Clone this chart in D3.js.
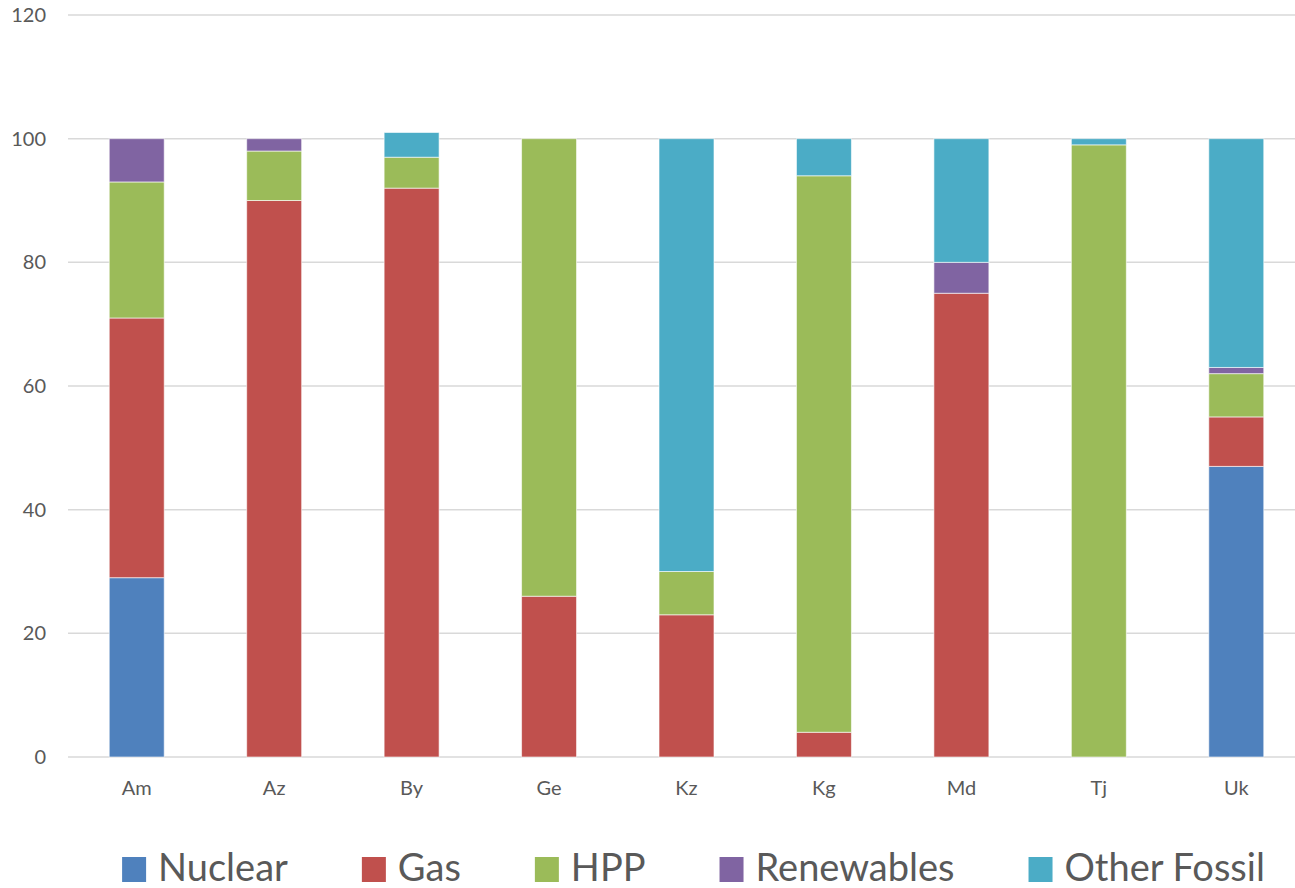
<!DOCTYPE html>
<html>
<head>
<meta charset="utf-8">
<script src="https://cdn.jsdelivr.net/npm/d3@7"></script>
<style>
  html, body { margin: 0; padding: 0; background: #fff; }
  svg { display: block; font-family: Lato, "Open Sans", "DejaVu Sans", sans-serif; }
</style>
</head>
<body>
<svg id="chart" width="1295" height="888"></svg>
<script>
// Electricity generation mix by country (% of total)
const countries = ["Am", "Az", "By", "Ge", "Kz", "Kg", "Md", "Tj", "Uk"];
const seriesNames = ["Nuclear", "Gas", "HPP", "Renewables", "Other Fossil"];
const nuclear     = [29, 0,  0,  0,  0,  0,  0,  0, 47];
const gas         = [42, 90, 92, 26, 23, 4, 75,  0,  8];
const hpp         = [22, 8,  5, 74,  7, 90, 0, 99,  7];
const renewables  = [7,  2,  0,  0,  0,  0,  5,  0,  1];
const otherFossil = [0,  0,  4,  0, 70,  6, 20, 1, 37];
const yTicks = [0, 20, 40, 60, 80, 100, 120];
const colors = ["#4F81BD", "#C0504D", "#9BBB59", "#8064A2", "#4BACC6"];

const seriesValues = [nuclear, gas, hpp, renewables, otherFossil];
const rows = countries.map((c, i) => {
  const r = { country: c };
  seriesNames.forEach((s, k) => { r[s] = seriesValues[k][i]; });
  return r;
});

const svg = d3.select("#chart");
const W = 1295, H = 888;
const plot = { left: 68, right: 1305, top: 15, bottom: 757 };

const x = d3.scaleBand().domain(countries).range([plot.left, plot.right]).paddingInner(0.6).paddingOuter(0.3);
const y = d3.scaleLinear().domain([0, 120]).range([plot.bottom, plot.top]);

// gridlines
svg.append("g").selectAll("line").data(yTicks).join("line")
  .attr("x1", plot.left).attr("x2", W)
  .attr("y1", d => y(d)).attr("y2", d => y(d))
  .attr("stroke", "#d9d9d9").attr("stroke-width", 1.5);

const tickFont = g => g.selectAll("text").attr("fill", "#595959")
  .style("font-size", "20px").style("font-family", "Lato, 'Open Sans', sans-serif");

// y axis labels
const yAxis = d3.axisLeft(y).tickValues(yTicks).tickSize(0).tickPadding(0);
svg.append("g").attr("transform", "translate(46,0)").call(yAxis)
  .call(g => g.select(".domain").remove())
  .call(tickFont);

// x axis labels
const xAxis = d3.axisBottom(x).tickSize(0).tickPadding(0);
svg.append("g").attr("transform", `translate(0,${plot.bottom + 24})`).call(xAxis)
  .call(g => g.select(".domain").remove())
  .call(tickFont);

// stacked bars
const stacked = d3.stack().keys(seriesNames)(rows);
svg.append("g").selectAll("g").data(stacked).join("g")
  .attr("fill", (d, i) => colors[i])
  .selectAll("rect").data(d => d.filter(p => p[1] - p[0] > 0)).join("rect")
  .attr("x", d => x(d.data.country))
  .attr("width", x.bandwidth())
  .attr("y", d => y(d[1]))
  .attr("height", d => y(d[0]) - y(d[1]))
  .attr("stroke", "#ffffff").attr("stroke-opacity", 0.6).attr("stroke-width", 1);

// legend
const legend = svg.append("g");
const items = legend.selectAll("g").data(seriesNames).join("g");
items.append("rect").attr("width", 24).attr("height", 25).attr("y", 857)
  .attr("fill", (d, i) => colors[i]);
items.append("text").text(d => d).attr("x", 36).attr("y", 881)
  .attr("fill", "#595959").style("font-size", "38px");
const gap = 74;
let cursor = 0;
const offsets = [];
items.each(function () {
  offsets.push(cursor);
  const w = d3.select(this).select("text").node().getComputedTextLength();
  cursor += 36 + w + gap;
});
const total = cursor - gap;
const start = 693.5 - total / 2;
items.attr("transform", (d, i) => `translate(${start + offsets[i]},0)`);
</script>
</body>
</html>
